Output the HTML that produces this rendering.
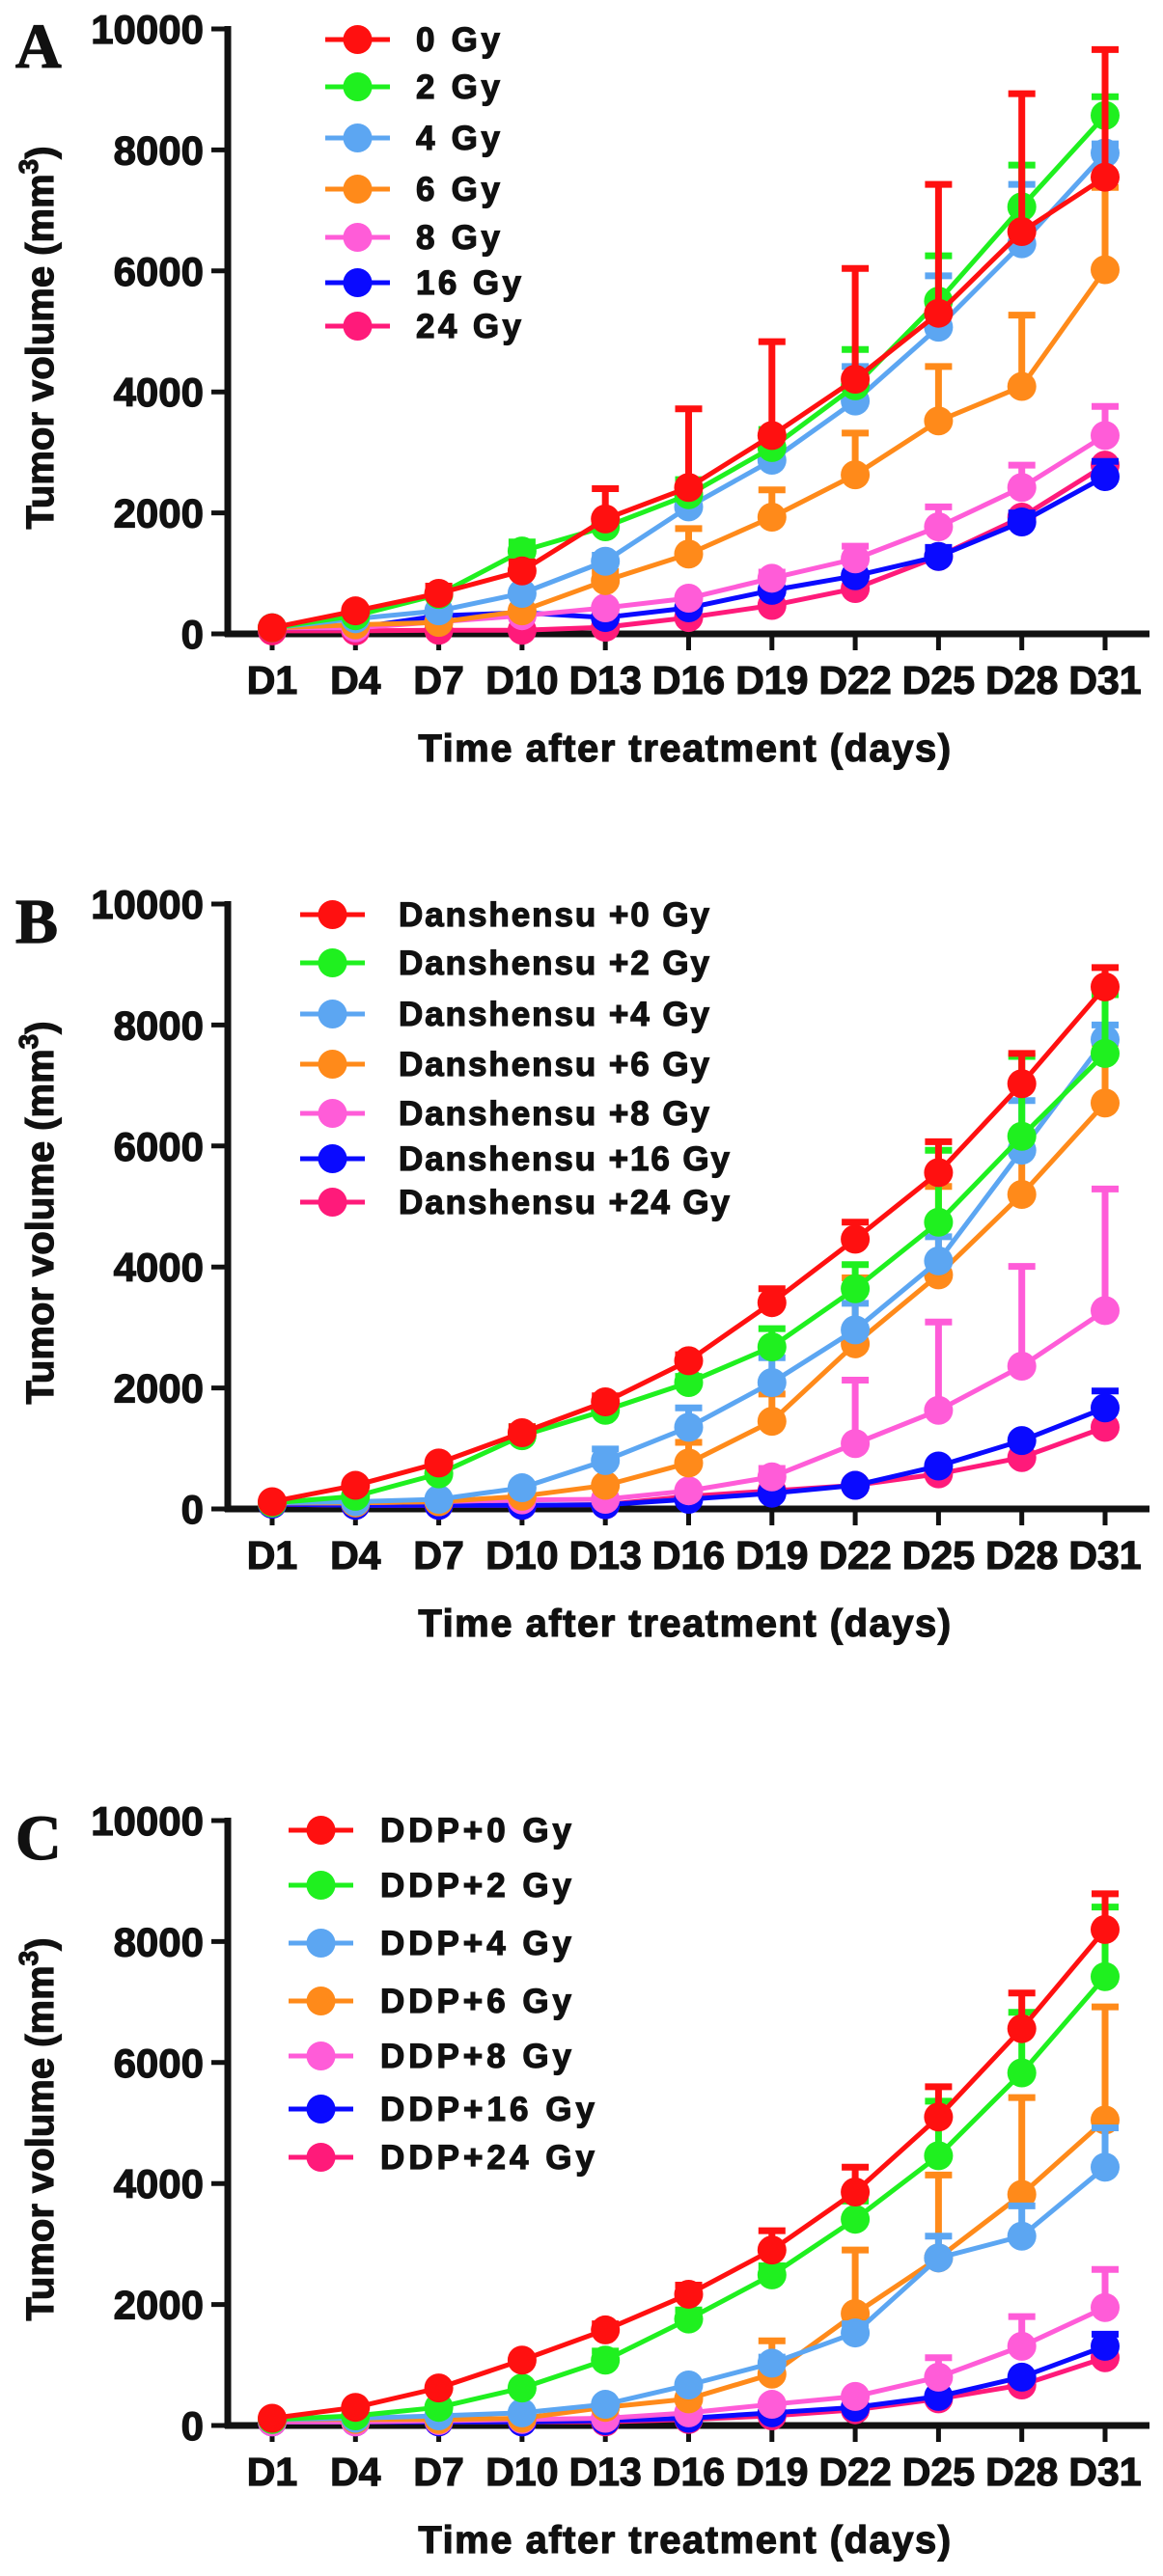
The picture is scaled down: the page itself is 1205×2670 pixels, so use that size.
<!DOCTYPE html>
<html><head><meta charset="utf-8">
<style>
html,body{margin:0;padding:0;background:#fff;}
svg{display:block;}
text{font-family:"Liberation Sans",Arial,sans-serif;font-weight:bold;fill:#111;stroke:#111;stroke-width:1.2px;}
</style></head>
<body>
<svg id="fig" width="1205" height="2670" viewBox="0 0 1205 2670" xmlns="http://www.w3.org/2000/svg"></svg>
<script>
const categories = ["D1","D4","D7","D10","D13","D16","D19","D22","D25","D28","D31"];
const yTicks = [0,2000,4000,6000,8000,10000];
const colors = ["#ff1010","#1ff01f","#5ca6f2","#ff8a1a","#ff5cd8","#0a0aff","#ff1a7a"];

const legendA = ["0 Gy","2 Gy","4 Gy","6 Gy","8 Gy","16 Gy","24 Gy"];
const legendB = ["Danshensu +0 Gy","Danshensu +2 Gy","Danshensu +4 Gy","Danshensu +6 Gy","Danshensu +8 Gy","Danshensu +16 Gy","Danshensu +24 Gy"];
const legendC = ["DDP+0 Gy","DDP+2 Gy","DDP+4 Gy","DDP+6 Gy","DDP+8 Gy","DDP+16 Gy","DDP+24 Gy"];

const valuesA = [
 [100,380,670,1040,1900,2420,3280,4210,5300,6650,7550],
 [100,300,650,1370,1770,2300,3080,4100,5500,7060,8570],
 [100,250,380,670,1200,2100,2870,3850,5070,6450,7950],
 [100,150,190,380,880,1320,1930,2630,3520,4090,6020],
 [100,100,200,300,430,590,920,1240,1770,2420,3280],
 [100,100,300,350,270,430,720,960,1280,1850,2600],
 [50,50,60,60,110,270,470,750,1280,1930,2790]
];
const errorsA = [
 [0,0,120,150,500,1300,1550,1830,2130,2280,2110],
 [0,0,0,150,150,250,300,600,750,690,310],
 [0,0,0,0,100,100,150,570,850,980,150],
 [0,0,0,0,150,420,450,690,900,1180,1360],
 [0,0,0,0,0,0,100,210,330,370,480],
 [0,0,0,0,0,0,0,0,150,150,250],
 [0,0,0,0,0,0,0,0,0,0,0]
];
const valuesB = [
 [120,390,760,1260,1770,2450,3410,4460,5560,7030,8630],
 [100,210,580,1210,1630,2090,2680,3640,4740,6160,7530],
 [100,120,160,350,800,1350,2090,2960,4100,5930,7760],
 [100,100,120,210,390,760,1450,2730,3870,5200,6710],
 [100,100,120,150,160,300,530,1080,1630,2360,3280],
 [80,60,60,60,70,160,260,390,710,1130,1670],
 [80,60,60,60,70,210,300,390,580,850,1350]
];
const errorsB = [
 [0,0,0,100,100,100,230,280,510,500,320],
 [0,0,0,150,100,100,300,400,1190,1320,970],
 [0,0,0,0,190,320,410,440,400,820,240],
 [0,0,0,0,0,340,450,1090,1460,700,990],
 [0,0,0,0,0,0,140,1050,1460,1650,2010],
 [0,0,0,0,0,0,0,0,0,0,280],
 [0,0,0,0,0,0,0,0,0,0,0]
];
const valuesC = [
 [120,300,620,1080,1580,2170,2900,3860,5100,6560,8200],
 [100,160,300,620,1080,1760,2490,3410,4460,5830,7420],
 [100,120,160,210,350,670,1030,1530,2770,3130,4270],
 [100,100,100,120,300,440,850,1850,2770,3820,5050],
 [60,60,80,100,120,210,350,480,800,1310,1950],
 [60,60,60,60,80,120,210,300,480,800,1310],
 [60,60,60,60,60,100,160,260,440,670,1120]
];
const errorsC = [
 [0,0,0,0,100,150,320,410,500,590,590],
 [0,0,0,0,150,150,150,300,900,1000,1150],
 [0,0,0,0,0,0,100,150,360,500,650],
 [0,0,0,0,0,0,550,1050,1370,1600,1870],
 [0,0,0,0,0,0,0,0,320,490,630],
 [0,0,0,0,0,0,0,0,0,0,200],
 [0,0,0,0,0,0,0,0,0,0,0]
];

const NS = "http://www.w3.org/2000/svg";
const svg = document.getElementById("fig");
function mk(tag, attrs, parent){
  const e = document.createElementNS(NS, tag);
  for (const k in attrs) e.setAttribute(k, attrs[k]);
  (parent||svg).appendChild(e);
  return e;
}

const X0 = 282, DX = 86.3, AXIS_X = 236, AXIS_END = 1191, PLOT_H = 627;

function drawPanel(letter, offsetY, legend, values, errors, leg){
  const zeroY = 657 + offsetY;
  const g = mk("g", {});
  
  
  const xs = i => X0 + i * DX;
  const ys = v => zeroY - v / 10000 * PLOT_H;

  const pl = mk("text", {x:16, y:70+offsetY, "font-size":66, style:"font-family:'Liberation Serif',serif;font-weight:bold"}, g);
  pl.textContent = letter;
  
  

  const ya = mk("line", {x1:AXIS_X, y1:ys(10000)-3, x2:AXIS_X, y2:zeroY+3, stroke:"#111","stroke-width":7}, g);
  
  
  const xa = mk("line", {x1:AXIS_X-3, y1:zeroY, x2:AXIS_END, y2:zeroY, stroke:"#111","stroke-width":7}, g);
  
  

  yTicks.forEach(t => {
    const y = ys(t);
    const tk = mk("line", {x1:219, y1:y, x2:AXIS_X, y2:y, stroke:"#111","stroke-width":5}, g);
    
    
    const tl = mk("text", {x:211, y:y+15, "font-size":42, "text-anchor":"end"}, g);
    tl.textContent = t;
    
    
  });
  categories.forEach((c, i) => {
    const x = xs(i);
    const tk = mk("line", {x1:x, y1:zeroY, x2:x, y2:zeroY+17, stroke:"#111","stroke-width":5}, g);
    
    
    const tl = mk("text", {x:x, y:zeroY+62, "font-size":41, "text-anchor":"middle"}, g);
    tl.textContent = c;
    
    
  });

  const xt = mk("text", {x:710, y:zeroY+132, "font-size":40, "text-anchor":"middle", "letter-spacing":"1.5"}, g);
  xt.textContent = "Time after treatment (days)";
  
  

  const yt = mk("text", {x:0, y:0, "font-size":40, "text-anchor":"middle", transform:"translate(55," + (zeroY-307) + ") rotate(-90)"}, g);
  
  
  yt.appendChild(document.createTextNode("Tumor volume (mm"));
  const sup = mk("tspan", {"font-size":28, dy:-16}, yt);
  sup.textContent = "3";
  const cl = mk("tspan", {dy:16}, yt);
  cl.textContent = ")";

  for (let s = values.length - 1; s >= 0; s--) {
    const sg = mk("g", {}, g);
    
    
    const col = colors[s];
    values[s].forEach((v, i) => {
      const e = errors[s][i];
      if (e > 0) {
        const x = xs(i), y1 = ys(v), y2 = ys(v + e);
        const eb = mk("path", {d:"M"+x+","+y1+"V"+y2+"M"+(x-14)+","+y2+"H"+(x+14), stroke:col, "stroke-width":7, fill:"none"}, sg);
        
        
      }
    });
    const pts = values[s].map((v, i) => xs(i) + "," + ys(v)).join(" ");
    const ln = mk("polyline", {points:pts, fill:"none", stroke:col, "stroke-width":5, "stroke-linejoin":"round"}, sg);
    
    
    values[s].forEach((v, i) => {
      const c = mk("circle", {cx:xs(i), cy:ys(v), r:15, fill:col}, sg);
      
      
    });
  }

  const lg = mk("g", {}, g);
  
  
  legend.forEach((name, s) => {
    const y = leg.rows[s] + offsetY;
    const eg = mk("g", {}, lg);
    
    
    mk("line", {x1:leg.x1, y1:y, x2:leg.x2, y2:y, stroke:colors[s], "stroke-width":5}, eg);
    mk("circle", {cx:(leg.x1+leg.x2)/2, cy:y, r:15, fill:colors[s]}, eg);
    const t = mk("text", {x:leg.tx, y:y+12, "font-size":35, textLength:leg.widths[s], lengthAdjust:"spacing"}, eg);
    t.textContent = name;
  });
}

drawPanel("A", 0, legendA, valuesA, errorsA,
  {x1:337, x2:404, tx:431, rows:[41,90,143,196,246,293,338], widths:[87,87,87,87,87,109,109]});
drawPanel("B", 907, legendB, valuesB, errorsB,
  {x1:311, x2:378, tx:413, rows:[41,91,144,196,247,294,339], widths:[322,322,322,322,322,343,343]});
drawPanel("C", 1857, legendC, valuesC, errorsC,
  {x1:299, x2:366, tx:394, rows:[40,97,157,217,274,329,379], widths:[198,198,198,198,198,222,222]});
</script>
</body></html>
